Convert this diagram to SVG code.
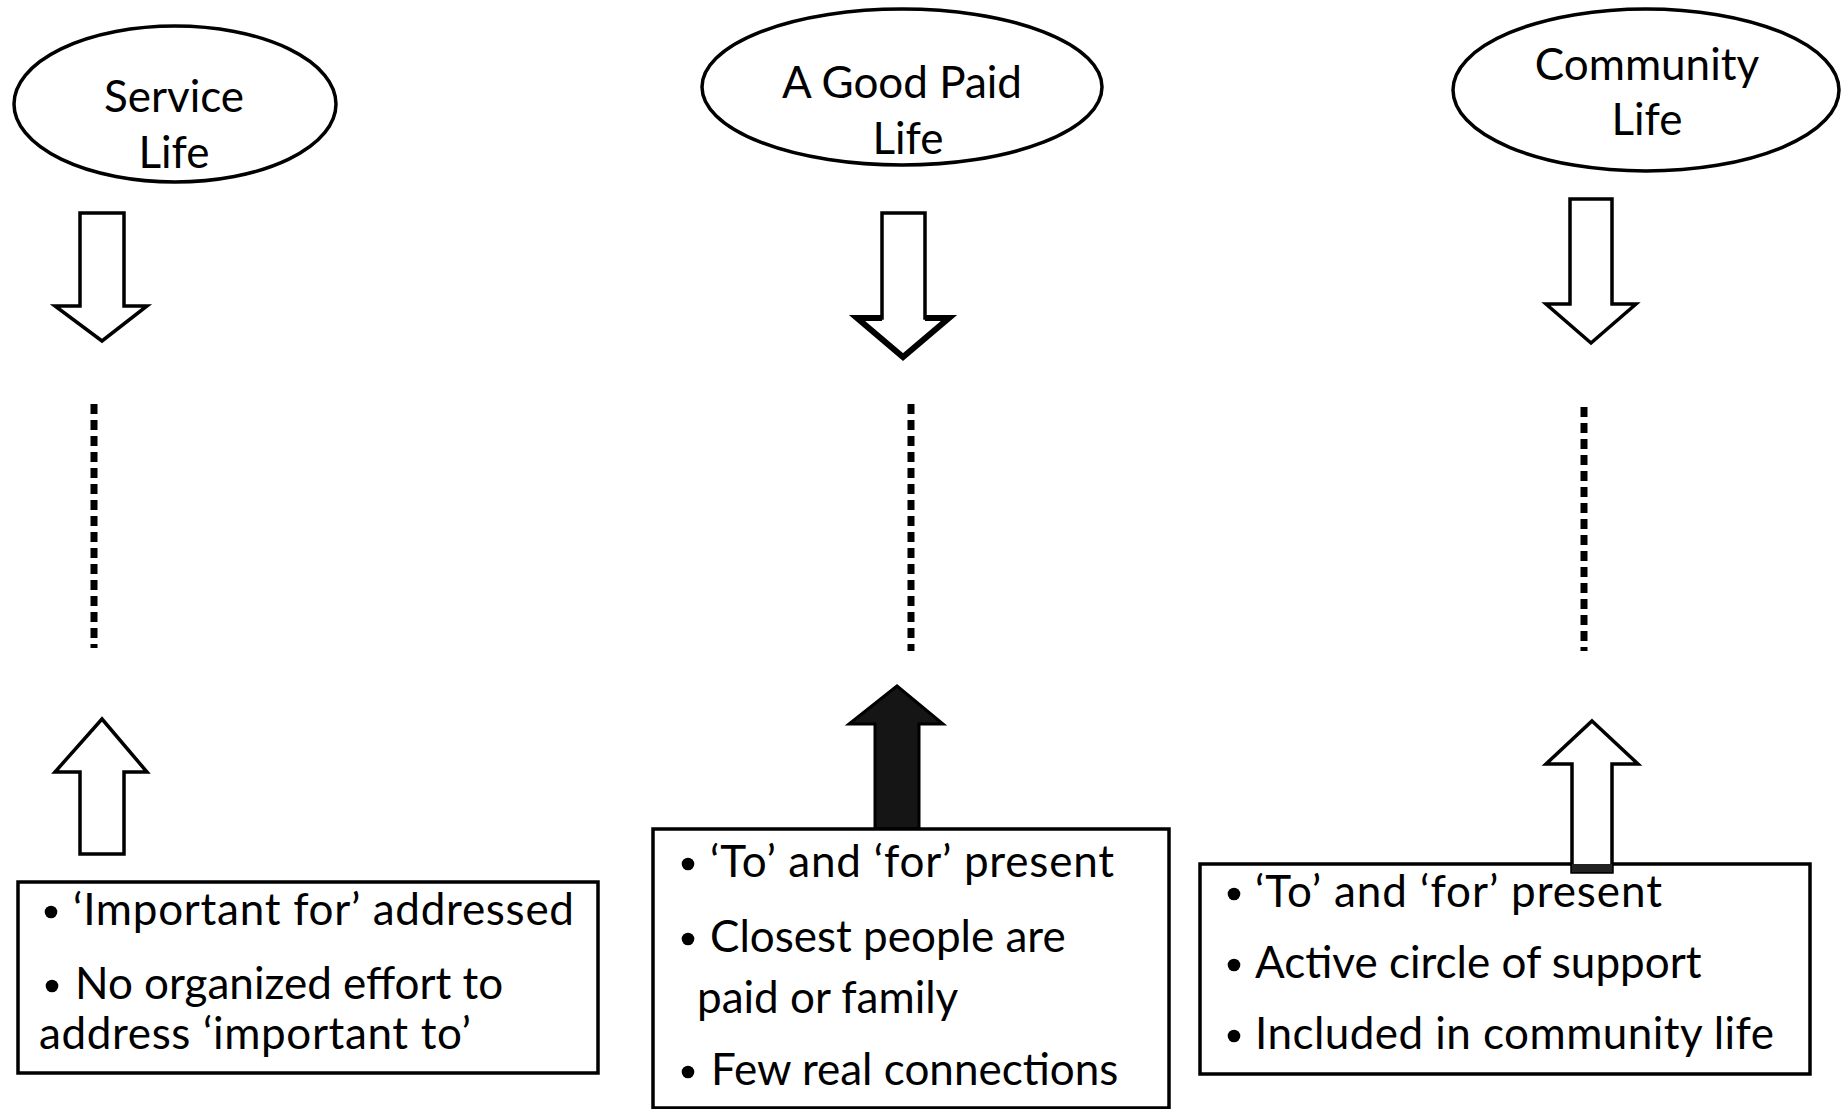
<svg xmlns="http://www.w3.org/2000/svg" width="1848" height="1109" viewBox="0 0 1848 1109">
<style>
.bg{fill:#ffffff}
.ell{fill:#ffffff;stroke:#000;stroke-width:3.5}
.box{fill:#ffffff;stroke:#000;stroke-width:3.5}
.t{font-family:Lato,"Liberation Sans",sans-serif;font-size:44px;fill:#000}
.tc{text-anchor:middle}
.bul{fill:#000}
.arr{fill:#ffffff;stroke:#000;stroke-width:3.5;stroke-linejoin:miter}
.arrB{fill:#ffffff;stroke:#000;stroke-width:3.5}
.arrF{fill:#151515;stroke:#000;stroke-width:3}
.dot{stroke:#000;stroke-width:7;stroke-dasharray:10 6;fill:none}
</style>
<defs>
<circle id="b" r="6.3" class="bul"/>
</defs>
<rect class="bg" x="0" y="0" width="1848" height="1109"/>
<g id="connectors">
<path class="arr" d="M80,213 H124 V306 H147 L102,341 L55,306 H80 Z"/>
<path class="arrB" d="M882,213 H925 V318 H949 L903,357 L857,318 H882 Z"/>
<path d="M925,318 H949 L903,357 L857,318 H882" fill="none" stroke="#000" stroke-width="6"/>
<path class="arr" d="M1570,199 H1612 V304 H1636 L1591,343 L1546,304 H1570 Z"/>
<line class="dot" x1="94" y1="404" x2="94" y2="648"/>
<line class="dot" x1="911" y1="404" x2="911" y2="651"/>
<line class="dot" x1="1584" y1="407" x2="1584" y2="651"/>
<path class="arr" d="M102,719 L147,772 H124 V854 H80 V772 H55 Z"/>
<path class="arrF" d="M897,686 L943,724 H919 V829 H875 V724 H849 Z"/>
</g>
<g id="node-service">
<ellipse class="ell" cx="175" cy="104" rx="161" ry="78"/>
<text class="t tc" x="174" y="112">Service</text>
<text class="t tc" x="174" y="168">Life</text>
</g>
<g id="node-goodpaid">
<ellipse class="ell" cx="902" cy="87" rx="200" ry="78"/>
<text class="t tc" x="902" y="98">A Good Paid</text>
<text class="t tc" x="908" y="154">Life</text>
</g>
<g id="node-community">
<ellipse class="ell" cx="1646" cy="90" rx="193" ry="81"/>
<text class="t tc" x="1647" y="80">Community</text>
<text class="t tc" x="1647" y="135">Life</text>
</g>
<g id="box-service">
<rect class="box" x="18" y="882" width="580" height="191"/>
<use href="#b" x="51" y="912"/>
<text class="t" x="73" y="925" textLength="501" lengthAdjust="spacing">‘Important for’ addressed</text>
<use href="#b" x="52" y="986"/>
<text class="t" x="75" y="999">No organized effort to</text>
<text class="t" x="39" y="1049" textLength="432" lengthAdjust="spacing">address ‘important to’</text>
</g>
<g id="box-goodpaid">
<rect class="box" x="653" y="829" width="516" height="279"/>
<use href="#b" x="688" y="864"/>
<text class="t" x="710" y="877" textLength="404" lengthAdjust="spacing">‘To’ and ‘for’ present</text>
<use href="#b" x="688" y="939"/>
<text class="t" x="710" y="952">Closest people are</text>
<text class="t" x="697" y="1013">paid or family</text>
<use href="#b" x="688" y="1072"/>
<text class="t" x="711" y="1085">Few real connections</text>
</g>
<g id="box-community">
<rect class="box" x="1200" y="864" width="610" height="210"/>
<use href="#b" x="1234" y="894"/>
<text class="t" x="1255" y="907" textLength="407" lengthAdjust="spacing">‘To’ and ‘for’ present</text>
<use href="#b" x="1234" y="965"/>
<text class="t" x="1255" y="978">Active circle of support</text>
<use href="#b" x="1234" y="1036"/>
<text class="t" x="1255" y="1049" textLength="519" lengthAdjust="spacing">Included in community life</text>
</g>
<g id="connector-up3">
<path class="arr" d="M1592,721 L1638,764 H1612 V872 H1572 V764 H1546 Z"/>
<rect x="1572" y="864" width="40" height="8" fill="#222"/>
</g>
</svg>
